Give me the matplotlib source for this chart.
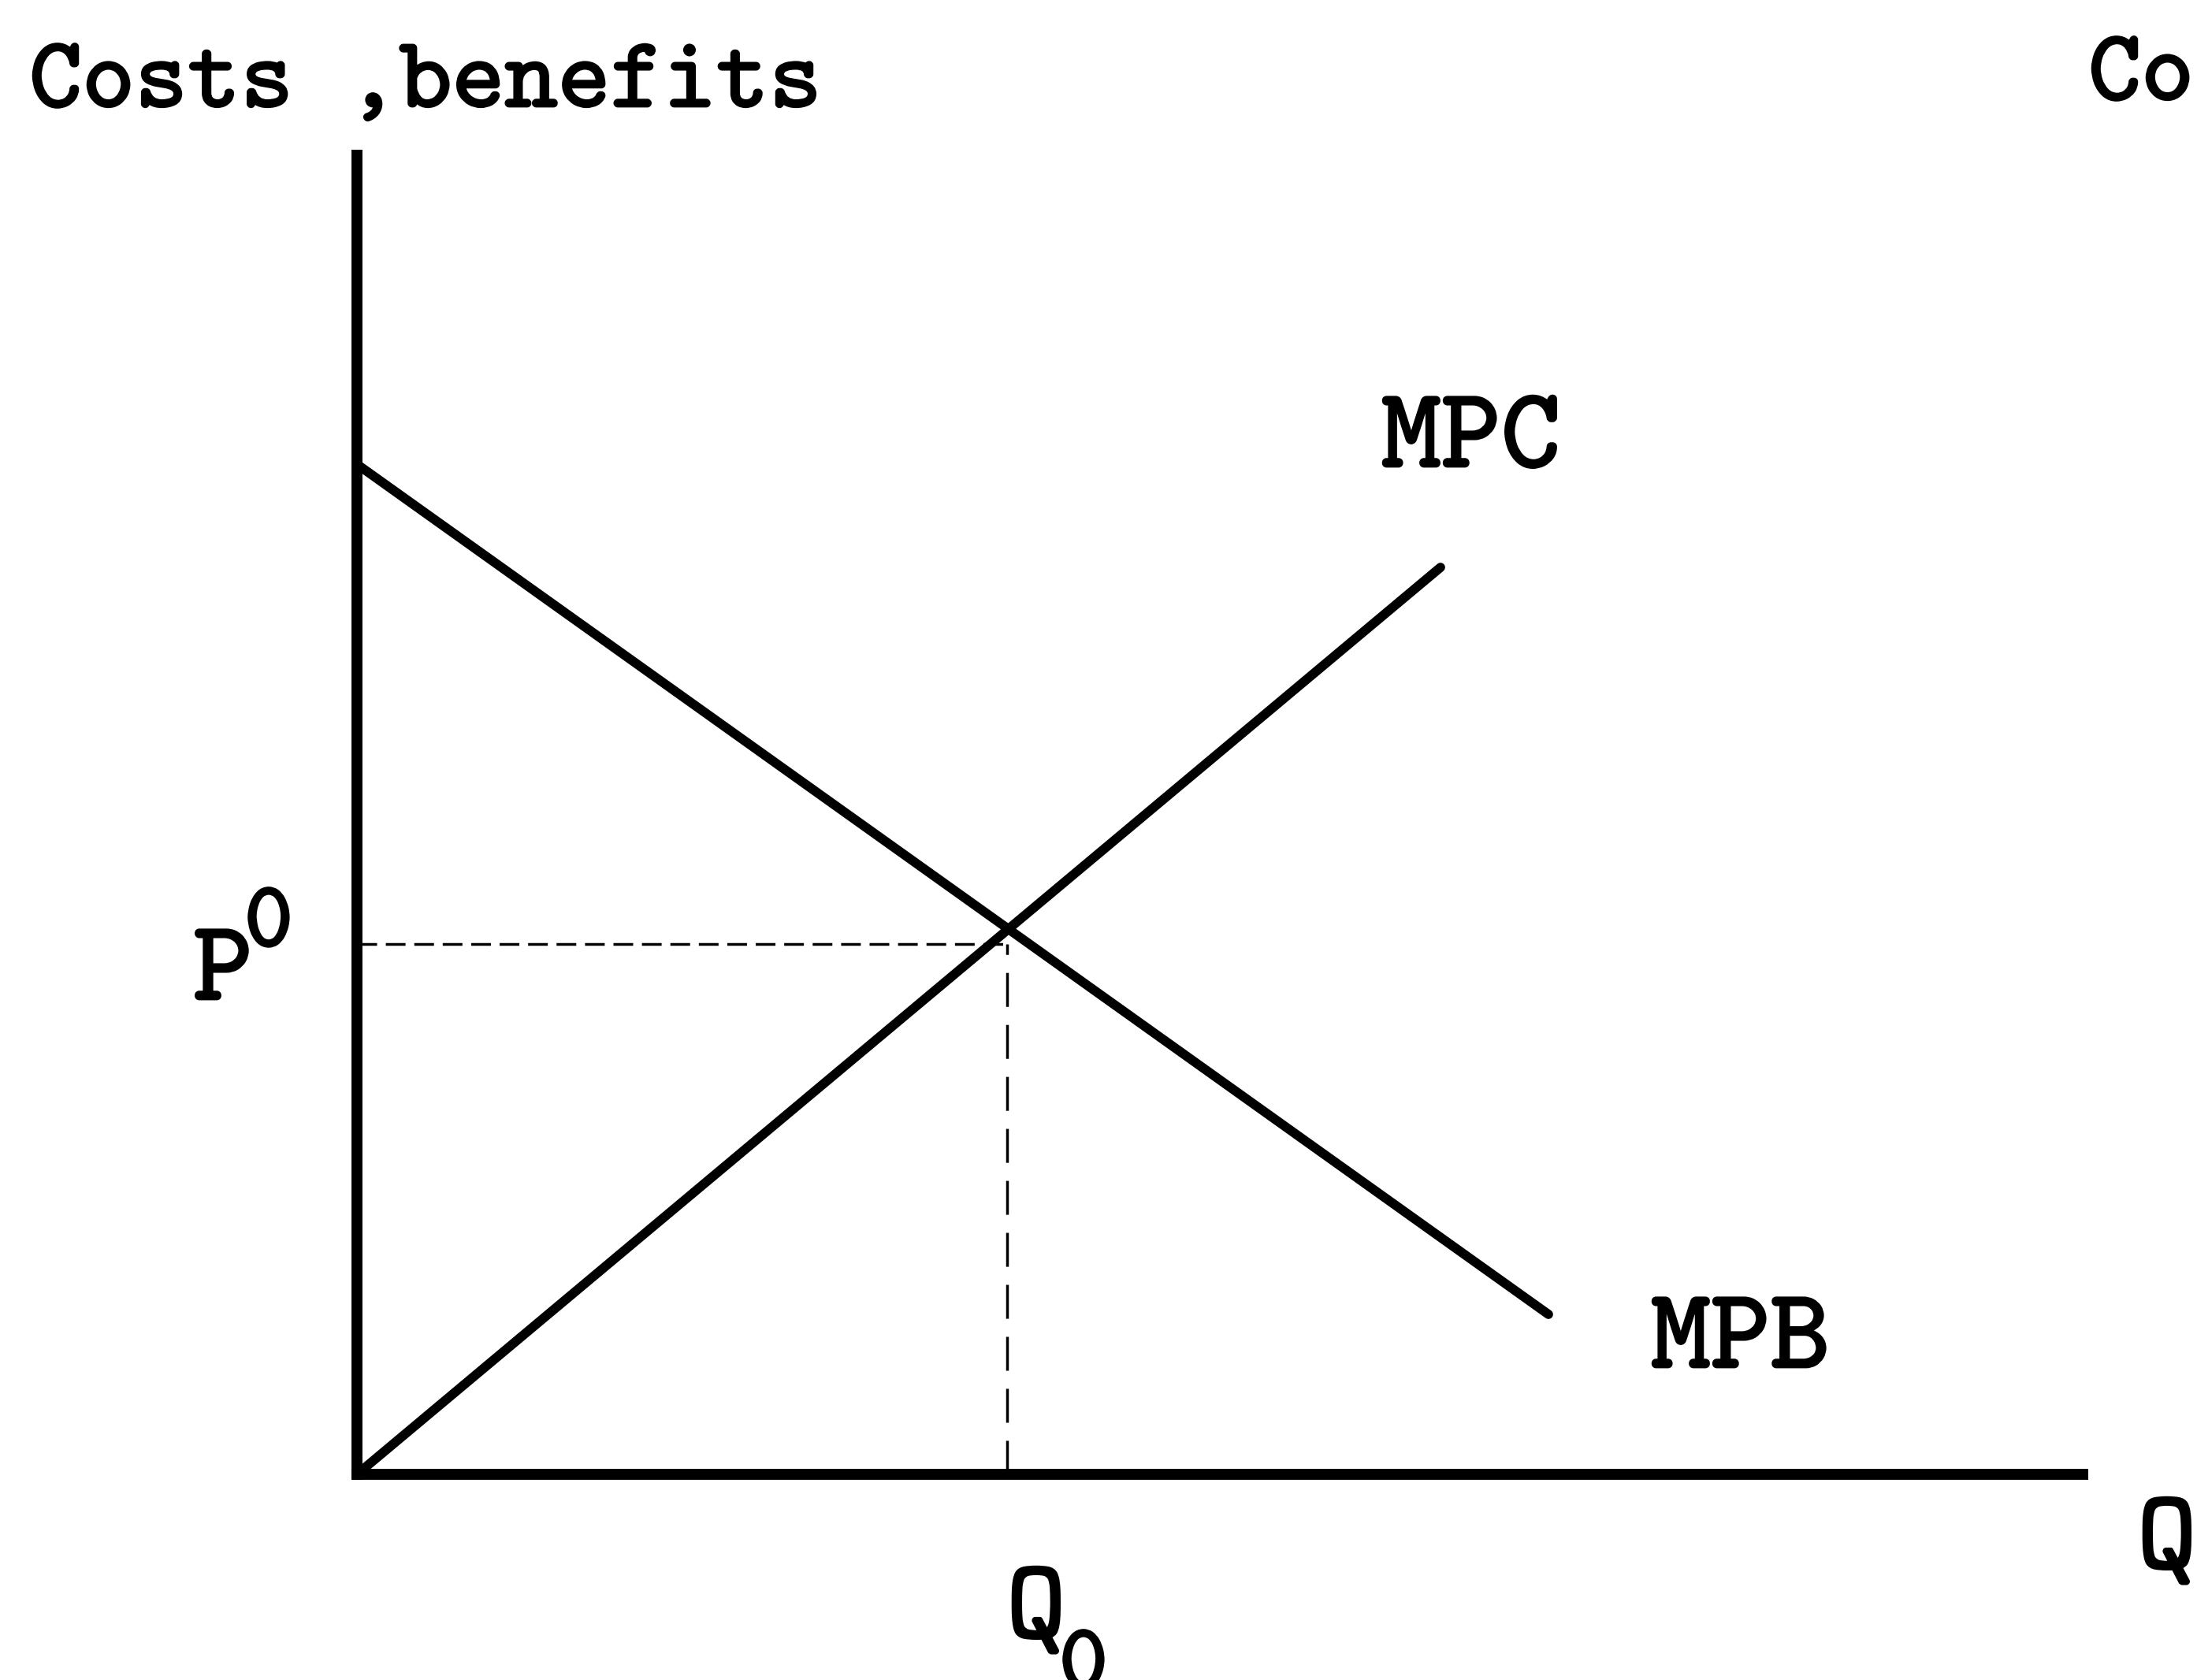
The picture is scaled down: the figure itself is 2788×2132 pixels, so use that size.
import matplotlib
matplotlib.use("Agg")
import matplotlib.pyplot as plt
import matplotlib.patheffects as pe

# curve end points (quantity, cost/benefit)
mpb_q = [0.04, 15.12]
mpb_p = [12.79, 2.03]
mpc_q = [0.0, 13.75]
mpc_p = [0.0, 11.51]
q0 = 8.25
p0 = 6.73
x_max = 21.97
y_max = 16.81

font = "cmtt10"

fig = plt.figure(figsize=(27.88, 21.32), dpi=100)
ax = fig.add_axes([453/2788, 261/2132, 2197/2788, 1681/2132])
ax.set_xlim(0, x_max)
ax.set_ylim(0, y_max)
ax.axis("off")

# axes
ax.plot([0, 0], [-0.07, y_max], color="black", lw=10, solid_capstyle="butt", clip_on=False)
ax.plot([-0.07, x_max], [0, 0], color="black", lw=10, solid_capstyle="butt", clip_on=False)

# curves
ax.plot(mpb_q, mpb_p, color="black", lw=8.5, solid_capstyle="round", clip_on=False)
ax.plot(mpc_q, mpc_p, color="black", lw=8.5, solid_capstyle="round", clip_on=False)

# dashed guides
ax.plot([0, q0], [p0, p0], color="black", lw=2.5, dashes=(7.2, 3.2), clip_on=False)
ax.plot([q0, q0], [0, p0], color="black", lw=2.5, dashes=(12.4, 6.6), clip_on=False)

bold = [pe.withStroke(linewidth=2, foreground="black")]
kw = dict(family=font, color="black", ha="left", va="baseline",
          clip_on=False, path_effects=bold)
ax.text(-4.16, 17.36, "Costs ,benefits", fontsize=92, **kw)
ax.text(21.97, 17.45, "Costs ,benefits", fontsize=92, **kw)
ax.text(13.0, 12.79, "MPC", fontsize=104, **kw)
ax.text(16.42, 1.36, "MPB", fontsize=104, **kw)
ax.text(-2.08, 6.03, "P", fontsize=104, **kw)
ax.text(-1.43, 6.71, "0", fontsize=85, **kw)
ax.text(8.24, -2.07, "Q", fontsize=104, **kw)
ax.text(8.91, -2.71, "0", fontsize=85, **kw)
ax.text(22.59, -1.19, "Q", fontsize=104, **kw)

fig.savefig("out.png", dpi=100, facecolor="white")
